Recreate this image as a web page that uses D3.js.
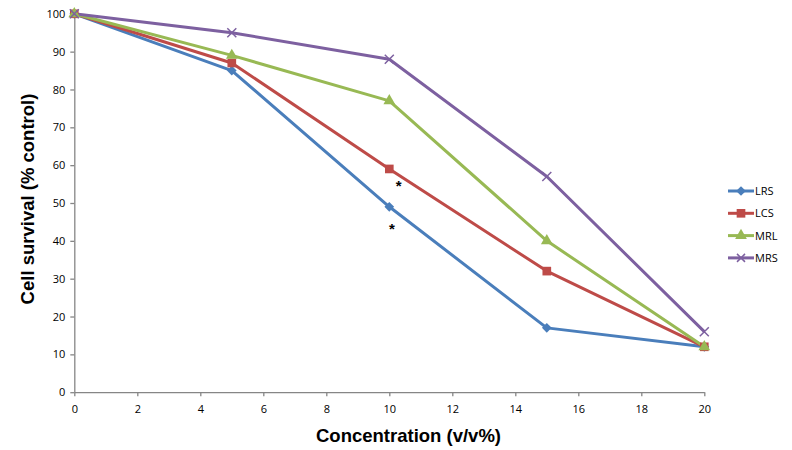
<!DOCTYPE html>
<html><head><meta charset="utf-8">
<script src="https://cdn.jsdelivr.net/npm/d3@7"></script>
<style>body{margin:0;background:#fff}svg{display:block}</style>
</head><body><svg id="c" width="792" height="450"></svg>
<script>
const concentrations = [0, 5, 10, 15, 20];
const seriesNames = ["LRS", "LCS", "MRL", "MRS"];
const lrs = [100, 85, 49, 17, 12];
const lcs = [100, 87, 59, 32, 12];
const mrl = [100, 89, 77, 40, 12];
const mrs = [100, 95, 88, 57, 16];
const xTicks = [0, 2, 4, 6, 8, 10, 12, 14, 16, 18, 20];
const yTicks = [0, 10, 20, 30, 40, 50, 60, 70, 80, 90, 100];
const asterisks = [{x: 10.3, y: 55}, {x: 10.08, y: 43.6}];

const colors = ["#4A7EBB", "#BE4B48", "#98B954", "#7D60A0"];
const symbols = [d3.symbolDiamond2, d3.symbolSquare, d3.symbolTriangle, d3.symbolCross];
const values = [lrs, lcs, mrl, mrs];

const svg = d3.select("#c");
const x = d3.scaleLinear().domain([0, 20]).range([74.3, 704.3]);
const y = d3.scaleLinear().domain([0, 100]).range([392.2, 13.8]);
const axisColor = "#868686";
const tickFont = "'Open Sans', 'Noto Sans', sans-serif";
const titleFont = "'Liberation Sans', Arial, sans-serif";

const gx = svg.append("g").attr("transform", `translate(0,${y(0)})`)
  .call(d3.axisBottom(x).tickValues(xTicks).tickSize(4).tickSizeOuter(0).tickPadding(9));
const gy = svg.append("g").attr("transform", `translate(${x(0)},0)`)
  .call(d3.axisLeft(y).tickValues(yTicks).tickSize(4).tickSizeOuter(0).tickPadding(5));
[gx, gy].forEach(g => {
  g.selectAll("path, line").attr("stroke", axisColor).attr("stroke-width", 1.3);
  g.selectAll("text").attr("font-family", tickFont).attr("font-size", 11).attr("fill", "#000");
});

const line = d3.line().x((d, i) => x(concentrations[i])).y(d => y(d));

values.forEach((vals, k) => {
  svg.append("path").datum(vals).attr("d", line)
    .attr("fill", "none").attr("stroke", colors[k]).attr("stroke-width", 3)
    .attr("stroke-linejoin", "round");
});

function drawMarker(g, k, cx, cy, size) {
  if (k === 3) {
    const s = size / 2;
    g.append("path")
      .attr("d", `M${cx - s},${cy - s}L${cx + s},${cy + s}M${cx - s},${cy + s}L${cx + s},${cy - s}`)
      .attr("stroke", colors[k]).attr("stroke-width", 1.5).attr("fill", "none");
  } else {
    const area = k === 0 ? 60 : k === 1 ? 75 : 60;
    g.append("path")
      .attr("d", d3.symbol().type(symbols[k]).size(area)())
      .attr("transform", `translate(${cx},${cy})`)
      .attr("fill", colors[k]);
  }
}

values.forEach((vals, k) => {
  const g = svg.append("g");
  vals.forEach((v, i) => drawMarker(g, k, x(concentrations[i]), y(v), 9));
});

asterisks.forEach(a => {
  svg.append("text").attr("x", x(a.x)).attr("y", y(a.y) + 7)
    .attr("text-anchor", "middle").attr("font-family", titleFont)
    .attr("font-weight", "bold").attr("font-size", 15).text("*");
});

// Legend
const legend = svg.append("g");
seriesNames.forEach((name, k) => {
  const ly = 191 + k * 22.3;
  legend.append("line").attr("x1", 728).attr("x2", 754).attr("y1", ly).attr("y2", ly)
    .attr("stroke", colors[k]).attr("stroke-width", 3);
  drawMarker(legend, k, 741, ly, 8);
  legend.append("text").attr("x", 755).attr("y", ly + 4)
    .attr("font-family", tickFont).attr("font-size", 11).text(name);
});

// Axis titles
svg.append("text").attr("x", 408.5).attr("y", 442)
  .attr("text-anchor", "middle").attr("font-family", titleFont)
  .attr("font-weight", "bold").attr("font-size", 18.5).text("Concentration (v/v%)");
svg.append("text").attr("transform", `translate(34,199) rotate(-90)`)
  .attr("text-anchor", "middle").attr("font-family", titleFont)
  .attr("font-weight", "bold").attr("font-size", 18.5).text("Cell survival (% control)");
</script></body></html>
